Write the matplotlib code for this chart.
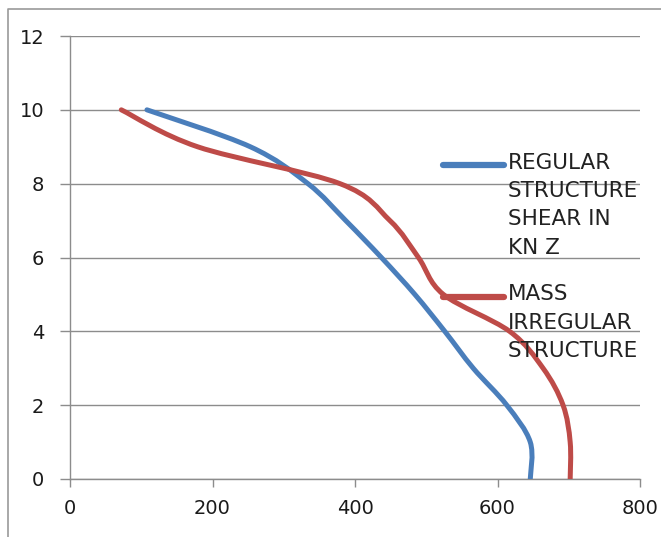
import matplotlib.pyplot as plt
import numpy as np
from matplotlib.path import Path
from matplotlib.patches import PathPatch
from matplotlib.lines import Line2D

# storey level vs shear
storey = [0, 1, 2, 3, 4, 5, 6, 7, 8, 9, 10]
regular_shear = [646, 646, 613, 566, 526, 484, 437, 387, 334, 253, 108]
mass_irregular_shear = [702, 702, 692, 664, 617, 524, 489, 449, 379, 179, 72]

x_ticks = [0, 200, 400, 600, 800]
y_ticks = [0, 2, 4, 6, 8, 10, 12]

blue = '#4a7ebb'
red = '#be4b48'
grid_col = '#8c8c8c'
font = 'DejaVu Sans'


def smooth_path(xs, ys):
    # excel style smoothed line: catmull-rom as cubic bezier
    p = np.column_stack([xs, ys]).astype(float)
    p = np.vstack([p[0], p, p[-1]])
    verts = [p[1]]
    codes = [Path.MOVETO]
    for i in range(1, len(p) - 2):
        c1 = p[i] + (p[i + 1] - p[i - 1]) / 6.0
        c2 = p[i + 1] - (p[i + 2] - p[i]) / 6.0
        verts += [c1, c2, p[i + 1]]
        codes += [Path.CURVE4] * 3
    return Path(verts, codes)


fig = plt.figure(figsize=(6.61, 5.37), dpi=100)
ax = fig.add_axes([70 / 661, 58 / 537, 570 / 661, 443 / 537])

for xs, col in [(regular_shear, blue), (mass_irregular_shear, red)]:
    ax.add_patch(PathPatch(smooth_path(xs, storey), fill=False, edgecolor=col,
                           lw=3.6, capstyle='round', joinstyle='round', zorder=3))

ax.set_xlim(0, 800)
ax.set_ylim(0, 12)
ax.set_xticks(x_ticks)
ax.set_yticks(y_ticks)
ax.yaxis.grid(True, color=grid_col, lw=1.0)
ax.set_axisbelow(True)
for s in ['top', 'right']:
    ax.spines[s].set_visible(False)
for s in ['left', 'bottom']:
    ax.spines[s].set_color(grid_col)
    ax.spines[s].set_linewidth(1.0)
ax.tick_params(axis='both', direction='out', width=1.0, color=grid_col,
               labelsize=14, labelcolor='#1a1a1a')
ax.tick_params(axis='x', length=5.5, pad=9)
ax.tick_params(axis='y', length=7.5, pad=11)
for lab in ax.get_xticklabels() + ax.get_yticklabels():
    lab.set_fontfamily(font)

# legend drawn to the right, lines sit at first text row
legend_items = [
    (blue, 'REGULAR\nSTRUCTURE\nSHEAR IN\nKN Z', 8.51),
    (red, 'MASS\nIRREGULAR\nSTRUCTURE', 4.94),
]
for col, txt, yy in legend_items:
    ax.add_line(Line2D([0.654, 0.761], [yy, yy], transform=ax.get_yaxis_transform(),
                       color=col, lw=4.5, solid_capstyle='round', clip_on=False, zorder=4))
    ax.text(0.768, yy + 0.33, txt, transform=ax.get_yaxis_transform(), ha='left', va='top',
            fontsize=15.5, family=font, color='#222222', linespacing=1.52, zorder=5)

# frame: only top and left edges show in the crop
fig.add_artist(Line2D([8 / 661, 8 / 661, 1.0], [0.0, 1 - 9 / 537, 1 - 9 / 537],
                      transform=fig.transFigure, color='#9a9a9a', lw=1.2))

fig.savefig('out.png', dpi=100)
